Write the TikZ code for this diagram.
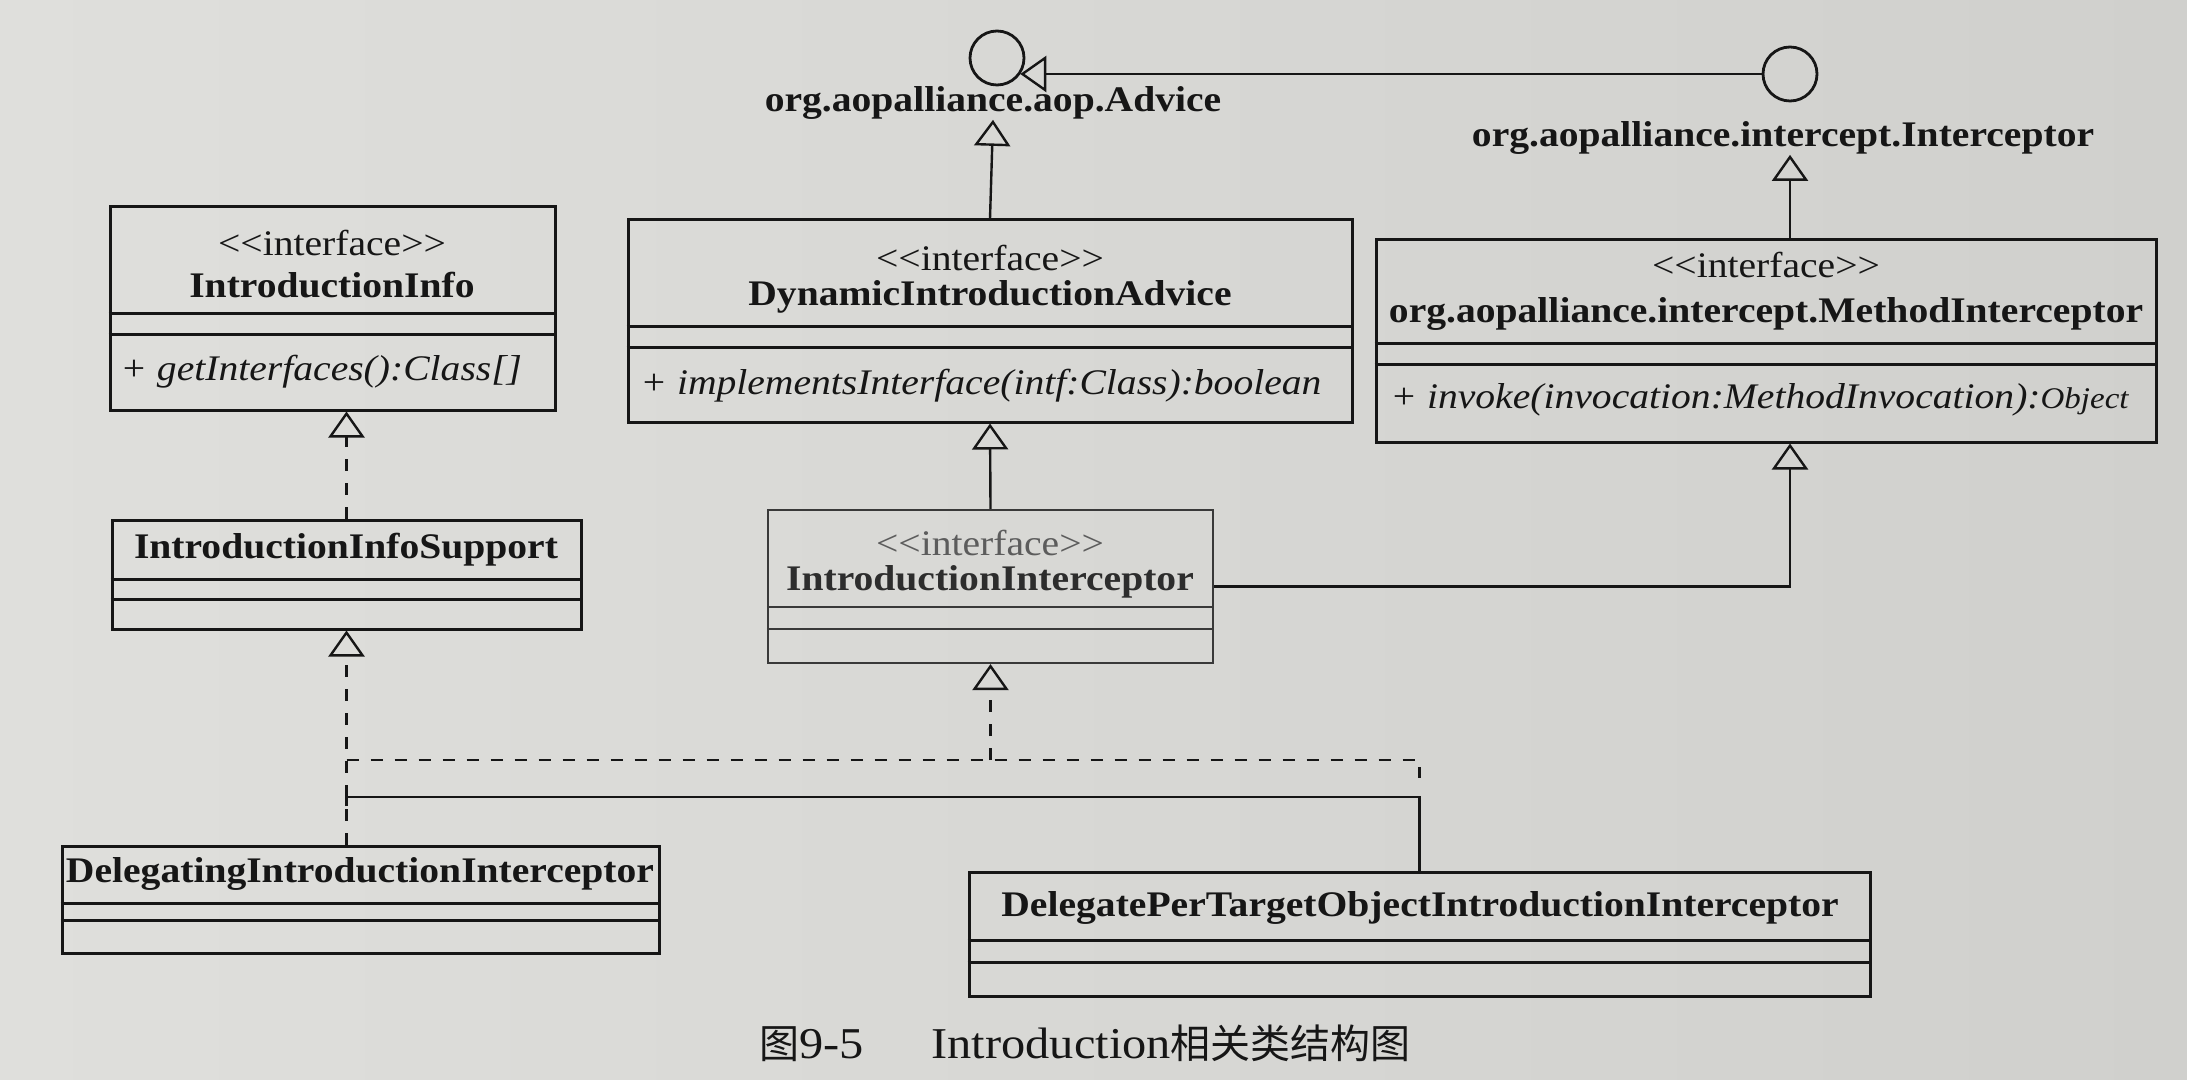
\documentclass[tikz,border=0pt]{standalone}
\usepackage{fontspec}
\newfontfamily\umlfont[FakeStretch=1.10]{Liberation Serif}
\newfontfamily\cjk{Noto Sans CJK SC}
\usetikzlibrary{arrows.meta,calc,fit}
\definecolor{paperL}{RGB}{223,223,220}
\definecolor{paperR}{RGB}{208,208,205}
\definecolor{ink}{RGB}{22,22,22}
\begin{document}
\begin{tikzpicture}[x=0.5pt,y=-0.5pt,
  box/.style={draw=ink, line width=1.5pt, rectangle, inner sep=0pt},
  thinbox/.style={draw=ink!85, line width=1.1pt, rectangle, inner sep=0pt},
  sepline/.style={draw=ink, line width=1.3pt},
  thinsep/.style={draw=ink!85, line width=1.0pt},
  st/.style={font=\umlfont\fontsize{18}{20}\selectfont, text=ink, inner sep=0pt},
  nm/.style={font=\umlfont\bfseries\fontsize{18}{20}\selectfont, text=ink, inner sep=0pt},
  op/.style={font=\umlfont\itshape\fontsize{18}{20}\selectfont, text=ink, inner sep=0pt, anchor=west},
  ball/.style={circle, draw=ink, line width=1.4pt, minimum size=27pt, inner sep=0pt},
  gen/.style={draw=ink, line width=1.2pt, -{Triangle[open, length=13pt, width=18pt, line width=1.2pt]}},
  real/.style={gen, dash pattern=on 6pt off 6pt},
  realline/.style={draw=ink, line width=1.2pt, dash pattern=on 6pt off 6pt},
  plainline/.style={draw=ink, line width=1.2pt}
]
\shade[left color=paperL, right color=paperR] (0,0) rectangle (2187,1080);
\useasboundingbox (0,0) rectangle (2187,1080);

% interface balls
\node[ball] (adv) at (997,58) {};
\node[nm] (advl) at (993,103) {org.aopalliance.aop.Advice};
\node[ball] (itc) at (1790,74) {};
\node[nm] (itcl) at (1783,138) {org.aopalliance.intercept.Interceptor};

% IntroductionInfo
\node[box, fit={(110,207)(555,410)}] (iinfo) {};
\draw[sepline] ($(iinfo.north west)+(0,108)$) -- ($(iinfo.north east)+(0,108)$);
\draw[sepline] ($(iinfo.north west)+(0,129)$) -- ($(iinfo.north east)+(0,129)$);
\node[st] (iinfo-s) at (332,243) {<\kern0pt<interface>\kern0pt>};
\node[nm] (iinfo-n) at (332,285) {IntroductionInfo};
\node[op] (iinfo-m) at (120,372) {+ getInterfaces():Class[]};

% DynamicIntroductionAdvice
\node[box, fit={(628,220)(1352,422)}] (dia) {};
\draw[sepline] ($(dia.north west)+(0,108)$) -- ($(dia.north east)+(0,108)$);
\draw[sepline] ($(dia.north west)+(0,129)$) -- ($(dia.north east)+(0,129)$);
\node[st] (dia-s) at (990,258) {<\kern0pt<interface>\kern0pt>};
\node[nm] (dia-n) at (990,297) {DynamicIntroductionAdvice};
\node[op] (dia-m) at (640,386) {+ implementsInterface(intf:Class):boolean};

% MethodInterceptor
\node[box, fit={(1376,240)(2156,442)}] (mi) {};
\draw[sepline] ($(mi.north west)+(0,105)$) -- ($(mi.north east)+(0,105)$);
\draw[sepline] ($(mi.north west)+(0,126)$) -- ($(mi.north east)+(0,126)$);
\node[st] (mi-s) at (1766,265) {<\kern0pt<interface>\kern0pt>};
\node[nm] (mi-n) at (1766,314) {org.aopalliance.intercept.MethodInterceptor};
\node[op] (mi-m) at (1390,400) {+ invoke(invocation:MethodInvocation):{\fontsize{15}{16}\selectfont Object}};

% IntroductionInfoSupport
\node[box, fit={(112,520)(581,629)}] (iis) {};
\draw[sepline] ($(iis.north west)+(0,61)$) -- ($(iis.north east)+(0,61)$);
\draw[sepline] ($(iis.north west)+(0,81)$) -- ($(iis.north east)+(0,81)$);
\node[nm] (iis-n) at (346,550) {IntroductionInfoSupport};

% IntroductionInterceptor
\node[thinbox, fit={(768,510)(1213,663)}] (ii) {};
\draw[thinsep] ($(ii.north west)+(0,98)$) -- ($(ii.north east)+(0,98)$);
\draw[thinsep] ($(ii.north west)+(0,120)$) -- ($(ii.north east)+(0,120)$);
\node[st, text=ink!70] (ii-s) at (990,543) {<\kern0pt<interface>\kern0pt>};
\node[nm, text=ink!90] (ii-n) at (990,582) {IntroductionInterceptor};

% DelegatingIntroductionInterceptor
\node[box, fit={(62,846)(659,953)}] (dii) {};
\draw[sepline] ($(dii.north west)+(0,59)$) -- ($(dii.north east)+(0,59)$);
\draw[sepline] ($(dii.north west)+(0,76)$) -- ($(dii.north east)+(0,76)$);
\node[nm] (dii-n) at (360,874) {DelegatingIntroductionInterceptor};

% DelegatePerTargetObjectIntroductionInterceptor
\node[box, fit={(969,872)(1870,996)}] (dpt) {};
\draw[sepline] ($(dpt.north west)+(0,70)$) -- ($(dpt.north east)+(0,70)$);
\draw[sepline] ($(dpt.north west)+(0,92)$) -- ($(dpt.north east)+(0,92)$);
\node[nm] (dpt-n) at (1420,908) {DelegatePerTargetObjectIntroductionInterceptor};

% connectors
\draw[gen] (itc.west) -- (itc.west -| adv.-35);
\draw[gen] (dia.north) -- (advl.south);
\draw[gen] (mi.north -| itc.center) -- (itcl.south -| itc.center);
\draw[gen] (ii.north) -- (dia.south);
\draw[gen] (ii.east) -| (mi.south -| itc.center);
\draw[real] (iis.north) -- (iis.north |- iinfo.south);
\draw[real] (dii.north -| iis.south) -- (iis.south);

\coordinate (jd) at (0,760);
\coordinate (je) at (0,778);
\coordinate (js) at (0,797);
\coordinate (jt) at (0,806);
\draw[realline] (iis.south |- jd) -- (dpt.north |- jd) -- (dpt.north |- je);
\draw[real] (ii.south |- jd) -- (ii.south);
\draw[plainline] (iis.south |- jt) -- (iis.south |- js) -- (dpt.north |- js) -- (dpt.north);

% caption
\node[inner sep=0pt, text=ink] (cap) at (1085,1043) {{\cjk\fontsize{20}{22}\selectfont 图}{\umlfont\fontsize{22}{24}\selectfont 9-5\hspace{34pt}Introduction}{\cjk\fontsize{20}{22}\selectfont 相关类结构图}};
\end{tikzpicture}
\end{document}
